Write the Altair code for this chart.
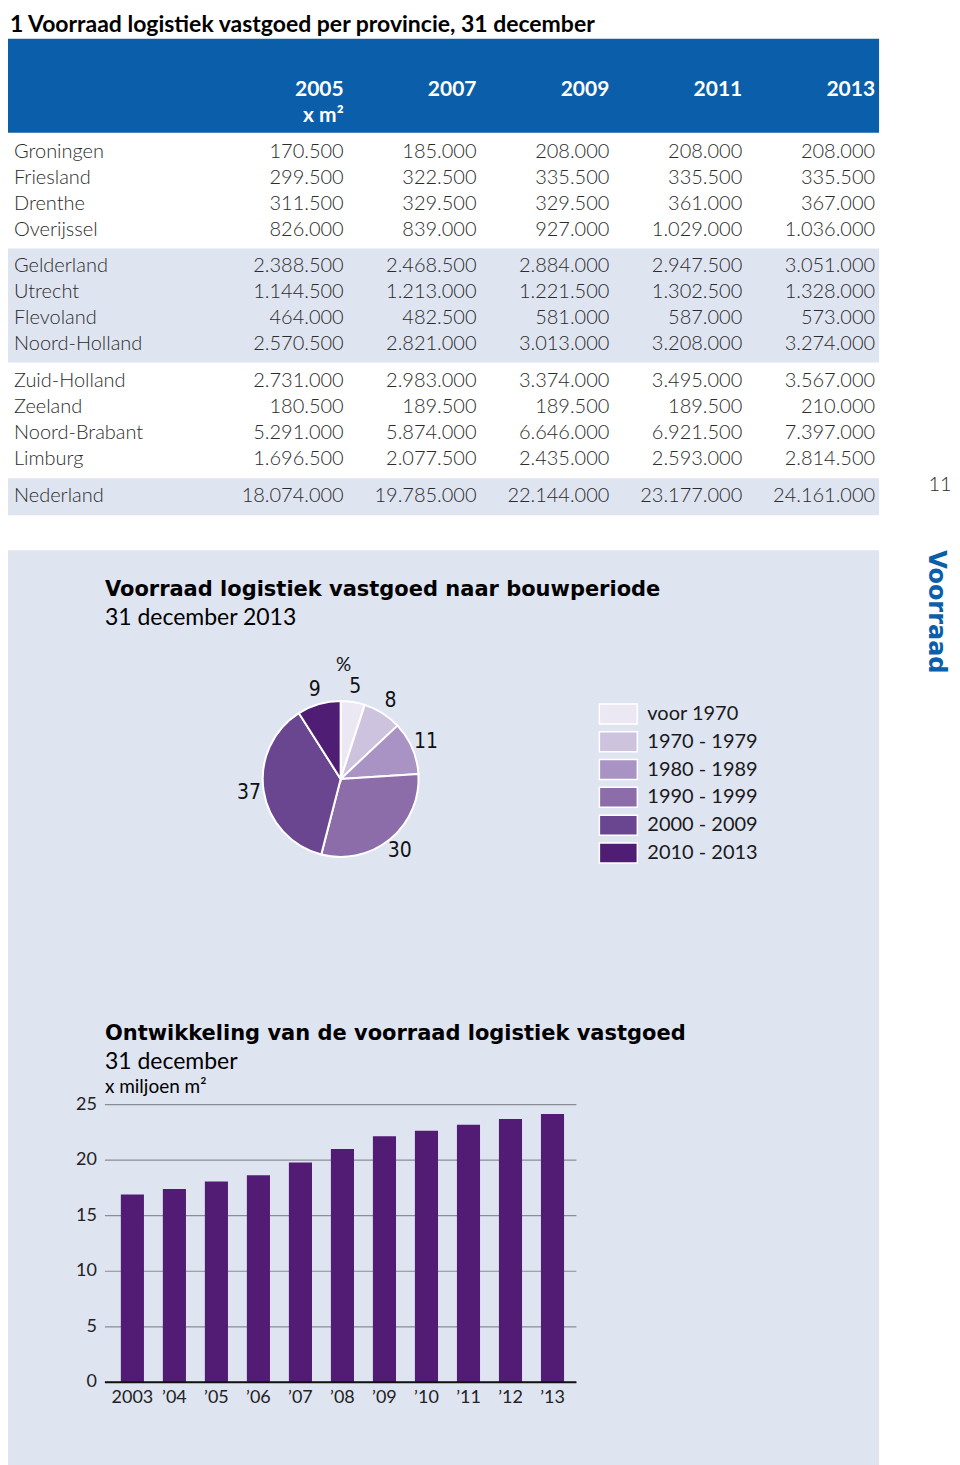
import altair as alt
import pandas as pd

# ---------------- data ----------------
provinces = ["Groningen", "Friesland", "Drenthe", "Overijssel",
             "Gelderland", "Utrecht", "Flevoland", "Noord-Holland",
             "Zuid-Holland", "Zeeland", "Noord-Brabant", "Limburg",
             "Nederland"]
years = ["2005", "2007", "2009", "2011", "2013"]
v2005 = [170500, 299500, 311500, 826000, 2388500, 1144500, 464000, 2570500,
         2731000, 180500, 5291000, 1696500, 18074000]
v2007 = [185000, 322500, 329500, 839000, 2468500, 1213000, 482500, 2821000,
         2983000, 189500, 5874000, 2077500, 19785000]
v2009 = [208000, 335500, 329500, 927000, 2884000, 1221500, 581000, 3013000,
         3374000, 189500, 6646000, 2435000, 22144000]
v2011 = [208000, 335500, 361000, 1029000, 2947500, 1302500, 587000, 3208000,
         3495000, 189500, 6921500, 2593000, 23177000]
v2013 = [208000, 335500, 367000, 1036000, 3051000, 1328000, 573000, 3274000,
         3567000, 210000, 7397000, 2814500, 24161000]

periodes = ["voor 1970", "1970 - 1979", "1980 - 1989", "1990 - 1999",
            "2000 - 2009", "2010 - 2013"]
aandeel = [5, 8, 11, 30, 37, 9]

jaren = ["2003", "\u201904", "\u201905", "\u201906", "\u201907", "\u201908",
         "\u201909", "\u201910", "\u201911", "\u201912", "\u201913"]
voorraad = [16.9, 17.4, 18.074, 18.65, 19.785, 21.0, 22.144, 22.65, 23.177,
            23.7, 24.161]
y_ticks = [0, 5, 10, 15, 20, 25]

# ---------------- style ----------------
F = "Lato, 'Open Sans', sans-serif"
FB = "'DejaVu Sans', Lato, sans-serif"
FC = "'Liberation Sans Narrow', 'DejaVu Sans Condensed', Lato, sans-serif"
BLUE = "#0b5ea9"
BAND = "#dfe4f1"
TXT = "#2b2b2b"
PIE_COLORS = ["#ece8f3", "#cdc3df", "#a893c4", "#8c6daa", "#6a4590", "#4f1e74"]
BAR = "#521c74"

# ---------------- table ----------------
TW, TH = 872, 505
ROW0, PITCH, GGAP = 143, 26, 11


def row_y(i):
    g = i // 4
    return ROW0 + g * (4 * PITCH + GGAP) + (i % 4) * PITCH


def fmt(v):
    return f"{v:,}".replace(",", ".")


cols = [v2005, v2007, v2009, v2011, v2013]
cells = []
for i, p in enumerate(provinces):
    for k, yr in enumerate(years):
        cells.append({"prov": p, "jaar": yr, "txt": fmt(cols[k][i]), "ry": row_y(i)})
cells = pd.DataFrame(cells)
labels = pd.DataFrame({"prov": provinces, "ry": [row_y(i) for i in range(len(provinces))]})

bg = pd.DataFrame([
    {"y": 30, "y2": 124, "fill": BLUE},
    {"y": row_y(4) - 18, "y2": row_y(7) + 18, "fill": BAND},
    {"y": row_y(12) - 18, "y2": row_y(12) + 19, "fill": BAND},
])
hdr = pd.DataFrame({"jaar": years, "ry": [81] * len(years)})

YS = alt.Scale(domain=[0, TH], range=[0, TH])
XS = alt.Scale(domain=years, range=[336, 868], padding=0, type="point")

t_bg = alt.Chart(bg).mark_rect().encode(
    x=alt.value(0), x2=alt.value(TW),
    y=alt.Y("y:Q", scale=YS, axis=None), y2="y2:Q",
    color=alt.Color("fill:N", scale=None),
)
t_hdr = alt.Chart(hdr).mark_text(align="right", baseline="middle", font=F,
                                  fontSize=21, fontWeight="bold", color="white").encode(
    x=alt.X("jaar:N", scale=XS, axis=None),
    y=alt.Y("ry:Q", scale=YS, axis=None), text="jaar:N")
t_unit = alt.Chart(pd.DataFrame({"t": ["x m\u00b2"]})).mark_text(
    align="right", baseline="middle", font=F, fontSize=21, fontWeight="bold",
    color="white").encode(x=alt.value(336), y=alt.value(107), text="t:N")
t_lab = alt.Chart(labels).mark_text(align="left", baseline="middle", font=F,
                                     fontSize=20, fontWeight=300, color=TXT).encode(
    x=alt.value(6), y=alt.Y("ry:Q", scale=YS, axis=None), text="prov:N")
t_num = alt.Chart(cells).mark_text(align="right", baseline="middle", font=F,
                                    fontSize=20, fontWeight=300, color=TXT).encode(
    x=alt.X("jaar:N", scale=XS, axis=None),
    y=alt.Y("ry:Q", scale=YS, axis=None), text="txt:N")
t_title = alt.Chart(pd.DataFrame({"t": ["1  Voorraad logistiek vastgoed per provincie, 31 december"]})).mark_text(
    align="left", baseline="alphabetic", font=F, fontSize=23, fontWeight="bold",
    color="black").encode(x=alt.value(2), y=alt.value(23), text="t:N")
t_page = alt.Chart(pd.DataFrame({"t": ["11"]})).mark_text(
    align="center", baseline="middle", font=F, fontSize=20, fontWeight=300,
    color=TXT).encode(x=alt.value(933), y=alt.value(477), text="t:N")

table = alt.layer(t_bg, t_hdr, t_unit, t_lab, t_num, t_title, t_page).properties(
    width=TW, height=TH)

# ---------------- lower panel ----------------
PW, PH = 872, 917


def txt(s, x, y, size=22, weight="normal", font=F, color="black", **kw):
    return alt.Chart(pd.DataFrame({"t": [s]})).mark_text(
        align="left", baseline="middle", font=font, fontSize=size,
        fontWeight=weight, color=color, **kw).encode(
        x=alt.value(x), y=alt.value(y), text="t:N")


pie_df = pd.DataFrame({"periode": periodes, "aandeel": aandeel,
                       "idx": list(range(len(periodes)))})
CS = alt.Scale(domain=periodes, range=PIE_COLORS)

pie = alt.Chart(pie_df).mark_arc(outerRadius=78, stroke="white", strokeWidth=2).encode(
    theta=alt.Theta("aandeel:Q", stack=True),
    order=alt.Order("idx:Q"),
    color=alt.Color("periode:N", scale=CS, legend=None),
    x=alt.value(333), y=alt.value(229),
)
pie_lab = alt.Chart(pie_df).mark_text(radius=93, font=FC, fontSize=21,
                                       color="#111111", baseline="middle",
                                       align="center").encode(
    theta=alt.Theta("aandeel:Q", stack=True),
    order=alt.Order("idx:Q"),
    text="aandeel:Q",
    x=alt.value(333), y=alt.value(229),
)
pct = alt.Chart(pd.DataFrame({"t": ["%"]})).mark_text(
    align="center", baseline="middle", font=F, fontSize=19, color="#111111").encode(
    x=alt.value(336), y=alt.value(115), text="t:N")

leg_rect = alt.Chart(pie_df).mark_rect(stroke="white", strokeWidth=1.5).encode(
    y=alt.Y("periode:N", scale=alt.Scale(type="band", domain=periodes, range=[150, 317],
                                         paddingInner=0.28, paddingOuter=0.14), axis=None),
    x=alt.value(592), x2=alt.value(630),
    color=alt.Color("periode:N", scale=CS, legend=None),
)
leg_txt = alt.Chart(pie_df).mark_text(align="left", baseline="middle", font=F,
                                       fontSize=20, color="#1a1a1a").encode(
    y=alt.Y("periode:N", scale=alt.Scale(type="point", domain=periodes, range=[164, 303],
                                         padding=0), axis=None),
    x=alt.value(640), text="periode:N")

# bar chart
bar_df = pd.DataFrame({"jaar": jaren, "v": voorraad})
tick_df = pd.DataFrame({"t": y_ticks})
BYS = alt.Scale(domain=[0, 25], range=[833, 555], nice=False, zero=True)
BXS = alt.Scale(domain=jaren, range=[103.5, 566.1], paddingInner=0.45, paddingOuter=0.225)

grid = alt.Chart(tick_df).mark_rule(color="#8a8d95", strokeWidth=1.2).encode(
    y=alt.Y("t:Q", scale=BYS, axis=None), x=alt.value(97), x2=alt.value(569))
tick_txt = alt.Chart(tick_df).mark_text(align="right", baseline="middle", font=F,
                                         fontSize=18, color="#222222").encode(
    y=alt.Y("t:Q", scale=BYS, axis=None), x=alt.value(89), text="t:Q")
bars = alt.Chart(bar_df).mark_bar(color=BAR).encode(
    x=alt.X("jaar:N", sort=jaren, scale=BXS,
            axis=alt.Axis(orient="bottom", offset=-84, domain=False, ticks=False,
                          labelPadding=6, labelFontSize=18, labelFont=F,
                          labelColor="#222222", labelAngle=0, title=None, grid=False)),
    y=alt.Y("v:Q", scale=BYS, axis=None),
)
base_line = alt.Chart(pd.DataFrame({"t": [0]})).mark_rule(color="#111111", strokeWidth=2).encode(
    y=alt.Y("t:Q", scale=BYS, axis=None), x=alt.value(97), x2=alt.value(569))

lower = alt.layer(
    txt("Voorraad logistiek vastgoed naar bouwperiode", 97, 40, size=21, weight="bold", font=FB),
    txt("31 december 2013", 97, 68, size=23),
    pie, pie_lab, pct, leg_rect, leg_txt,
    txt("Ontwikkeling van de voorraad logistiek vastgoed", 97, 484, size=21, weight="bold", font=FB),
    txt("31 december", 97, 512, size=23),
    txt("x miljoen m\u00b2", 97, 537, size=19),
    grid, bars, base_line, tick_txt,
    txt("Voorraad", 929, 0, size=24, weight="bold", font=FB, color=BLUE, angle=90),
).resolve_scale(x="independent", y="independent").properties(
    width=PW, height=PH, view=alt.ViewBackground(fill=BAND, strokeWidth=0))

chart = alt.vconcat(table, lower, spacing=35).properties(
    padding=0, background="white").configure_view(strokeWidth=0)

chart.save("out.html", embed_options={"renderer": "svg", "actions": False})
